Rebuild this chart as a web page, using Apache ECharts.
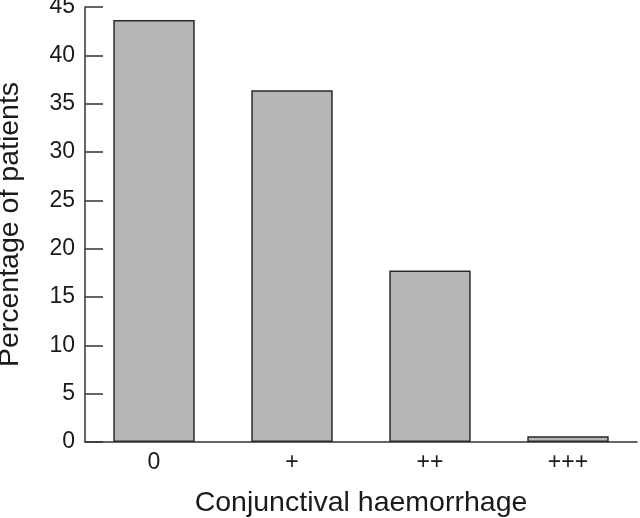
<!DOCTYPE html>
<html>
<head>
<meta charset="utf-8">
<script src="https://cdn.jsdelivr.net/npm/echarts@6/dist/echarts.min.js"></script>
<style>
  html, body { margin: 0; padding: 0; background: #fff; }
  #chart { width: 640px; height: 518px; }
</style>
</head>
<body>
<div id="chart"></div>
<script>
// data
const categories = ['0', '+', '++', '+++'];
const percentages = [43.65, 36.4, 17.75, 0.6];

const font = 'Liberation Sans, Arial, sans-serif';
const ink = '#1a1a1a';

const chart = echarts.init(document.getElementById('chart'));
chart.setOption({
  animation: false,
  backgroundColor: '#fff',
  grid: { left: 85, right: 3, top: 7, bottom: 76, outerBoundsMode: 'none', containLabel: false },
  xAxis: {
    type: 'category',
    data: categories,
    name: 'Conjunctival haemorrhage',
    nameLocation: 'middle',
    nameGap: 47,
    nameTextStyle: { fontFamily: font, fontSize: 28.5, color: ink, verticalAlign: 'top' },
    axisLine: { lineStyle: { color: '#333', width: 1.5 } },
    axisTick: { show: false },
    axisLabel: { fontFamily: font, fontSize: 23, color: ink, margin: 9 }
  },
  yAxis: {
    type: 'value',
    min: 0,
    max: 45,
    interval: 5,
    name: 'Percentage of patients',
    nameLocation: 'middle',
    nameGap: 60,
    nameTextStyle: { fontFamily: font, fontSize: 28.5, color: ink },
    axisLine: { show: true, lineStyle: { color: '#333', width: 1.5 } },
    axisTick: { show: true, inside: true, length: 18, lineStyle: { color: '#333', width: 1.5 } },
    axisLabel: { fontFamily: font, fontSize: 23, color: ink, margin: 10 },
    splitLine: { show: false }
  },
  series: [{
    type: 'bar',
    data: percentages,
    barWidth: '59%',
    itemStyle: { color: '#b5b7b4', borderColor: '#2a2a2a', borderWidth: 1.5 }
  }]
});
</script>
</body>
</html>
